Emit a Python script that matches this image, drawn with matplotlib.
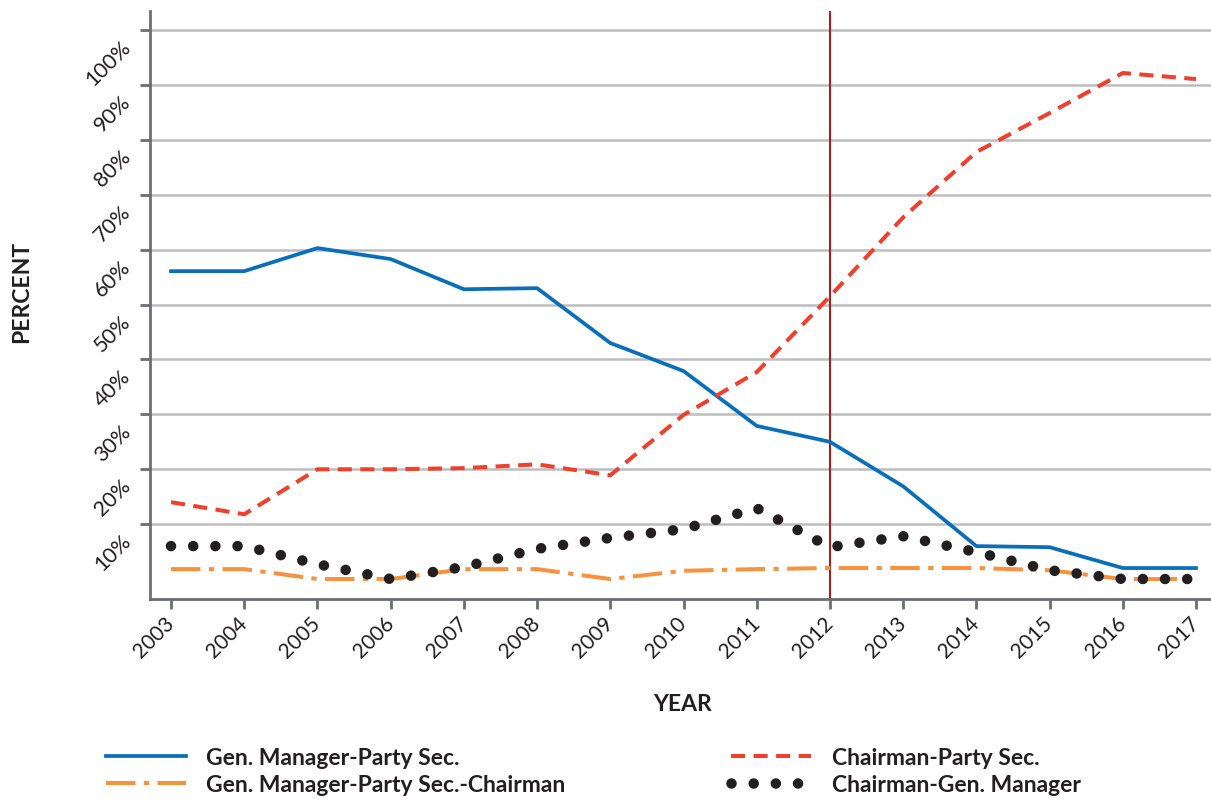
import matplotlib.pyplot as plt
import matplotlib.transforms as mtransforms

plt.rcParams['font.family'] = ['Lato', 'DejaVu Sans']

years = list(range(2003, 2018))

# parts en %
gm_party = [56.1, 56.1, 60.3, 58.3, 52.8, 53.0, 43.0, 37.9, 27.9, 25.0, 16.9, 6.0, 5.8, 2.0, 2.0]
chair_party = [14.0, 11.8, 20.0, 20.0, 20.2, 20.9, 18.9, 29.9, 37.7, 51.5, 65.9, 77.8, 84.9, 92.2, 91.1]
gm_party_chair = [1.8, 1.8, 0.0, 0.0, 1.8, 1.8, 0.0, 1.5, 1.8, 2.0, 2.0, 2.0, 1.6, 0.0, 0.0]
chair_gm = [6.0, 6.0, 2.7, 0.0, 2.2, 5.5, 7.5, 9.1, 12.9, 5.8, 7.8, 4.9, 1.6, 0.0, 0.0]

y_ticks = [10, 20, 30, 40, 50, 60, 70, 80, 90, 100]
y_labels = [f"{v}%" for v in y_ticks]
reform_year = 2012

fig = plt.figure(figsize=(12.11, 8.03), dpi=100)
ax = fig.add_axes([150 / 1211, 1 - 600 / 803, 1 - 150 / 1211, (600 - 12) / 803])

ax.set_xlim(2002.713, 2017.205)
ax.set_ylim(-3.64, 103.5)

for v in y_ticks:
    ax.axhline(v, color='#bdbdc0', lw=1.8, zorder=1)

ax.axvline(reform_year, color='#a51e1f', lw=1.5, zorder=2)

ax.plot(years, gm_party, color='#0a6fba', lw=2.7, zorder=4,
        label="Gen. Manager-Party Sec.")
ax.plot(years, chair_party, color='#ee402c', lw=2.9, zorder=4,
        linestyle=(0, (3.5, 2.1)), label="Chairman-Party Sec.")
ax.plot(years, gm_party_chair, color='#f7923f', lw=2.9, zorder=3,
        linestyle=(0, (7.3, 2.1, 1.3, 2.1)), label="Gen. Manager-Party Sec.-Chairman")
ax.plot(years, chair_gm, color='#231f20', lw=7.6, zorder=5,
        linestyle=(0, (0.001, 2.1)), dash_capstyle='round',
        label="Chairman-Gen. Manager")

for s in ['top', 'right']:
    ax.spines[s].set_visible(False)
for s in ['left', 'bottom']:
    ax.spines[s].set_color('#6d6e71')
    ax.spines[s].set_linewidth(2)

ax.set_xticks(years)
ax.set_xticklabels([str(y) for y in years], rotation=45, ha='right', va='top',
                   fontsize=15)
ax.set_yticks(y_ticks)
ax.set_yticklabels(y_labels, rotation=45, ha='right', va='top', fontsize=15.5)
ax.tick_params(axis='both', direction='out', length=7, width=2, color='#6d6e71',
               labelcolor='#231f20')
ax.tick_params(axis='y', pad=4)
ax.tick_params(axis='x', pad=3)

off = mtransforms.ScaledTranslation(0, -6 / 100, fig.dpi_scale_trans)
for lab in ax.get_yticklabels():
    lab.set_transform(lab.get_transform() + off)
off_x = mtransforms.ScaledTranslation(7 / 100, 0, fig.dpi_scale_trans)
for lab in ax.get_xticklabels():
    lab.set_transform(lab.get_transform() + off_x)

fig.text(683 / 1211, 1 - 705 / 803, "YEAR", ha='center', va='center',
         fontsize=16.5, fontweight='bold', color='#231f20')
fig.text(22 / 1211, 1 - 292 / 803, "PERCENT", ha='center', va='center',
         rotation=90, fontsize=16.5, fontweight='bold', color='#231f20')

h, l = ax.get_legend_handles_labels()
order = [0, 2, 1, 3]
leg = fig.legend([h[i] for i in order], [l[i] for i in order], ncol=2,
                 loc='center left', bbox_to_anchor=(85 / 1211, 1 - 772 / 803),
                 frameon=False, handlelength=3.5, columnspacing=7.2,
                 handletextpad=0.9, labelspacing=0.25,
                 prop={'size': 16.5, 'weight': 'bold'})
for t in leg.get_texts():
    t.set_color('#231f20')

fig.savefig("out.png", dpi=100)
